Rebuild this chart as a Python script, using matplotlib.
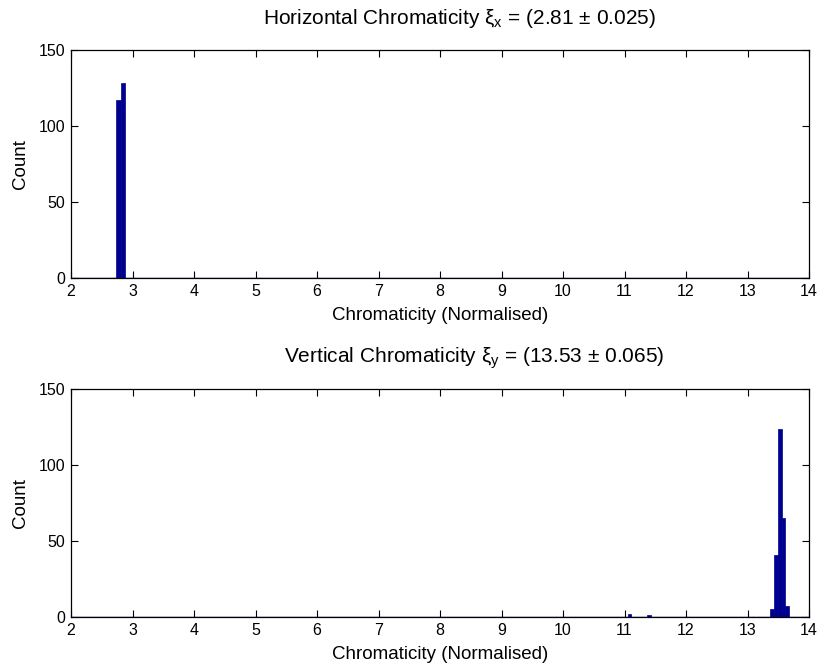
import matplotlib
matplotlib.use("Agg")
import matplotlib.pyplot as plt

plt.rcParams['font.family'] = ['Liberation Sans', 'DejaVu Sans']
plt.rcParams['mathtext.fontset'] = 'custom'
plt.rcParams['mathtext.rm'] = 'Liberation Sans'
plt.rcParams['mathtext.it'] = 'Liberation Sans'
plt.rcParams['mathtext.bf'] = 'Liberation Sans:bold'

# Histogram bins (left edge, width) and counts for each plane
h_edges = [2.735, 2.805]
h_width = 0.07
h_counts = [117, 128]

v_edges = [11.05, 11.37, 13.365, 13.428, 13.491, 13.554, 13.617]
v_width = 0.063
v_counts = [2, 1, 5, 41, 124, 65, 7]

x_ticks = list(range(2, 15))
y_ticks = [0, 50, 100, 150]

titles = [r"Horizontal Chromaticity $\xi_{x}$ = (2.81 $\pm$ 0.025)",
          r"Vertical Chromaticity $\xi_{y}$ = (13.53 $\pm$ 0.065)"]
x_label = "Chromaticity (Normalised)"
y_label = "Count"

bar_color = (0, 0, 0.5625)

fig = plt.figure(figsize=(8.2, 6.67), dpi=100)
ax_top = fig.add_axes([0.0866, 0.5832, 0.9, 0.3418])
ax_bot = fig.add_axes([0.0866, 0.075, 0.9, 0.3418])

for ax, edges, width, counts, title, tx in [
        (ax_top, h_edges, h_width, h_counts, titles[0], 0.527),
        (ax_bot, v_edges, v_width, v_counts, titles[1], 0.546)]:
    ax.bar(edges, counts, width=width, align='edge', color=bar_color,
           edgecolor=bar_color, linewidth=0.5, zorder=2)
    ax.axhline(0, color=bar_color, linewidth=1.0, zorder=3)
    ax.set_xlim(2, 14)
    ax.set_ylim(0, 150)
    ax.set_xticks(x_ticks)
    ax.set_yticks(y_ticks)
    ax.tick_params(direction='in', top=True, right=True, length=5,
                   width=0.8, labelsize=11.5, pad=4)
    for s in ax.spines.values():
        s.set_linewidth(0.9)
    ax.set_xlabel(x_label, fontsize=13.5, labelpad=6)
    ax.set_ylabel(y_label, fontsize=13.5, labelpad=7)
    ax.set_title(title, fontsize=15, pad=19, x=tx)

fig.savefig("out.png", dpi=100)
